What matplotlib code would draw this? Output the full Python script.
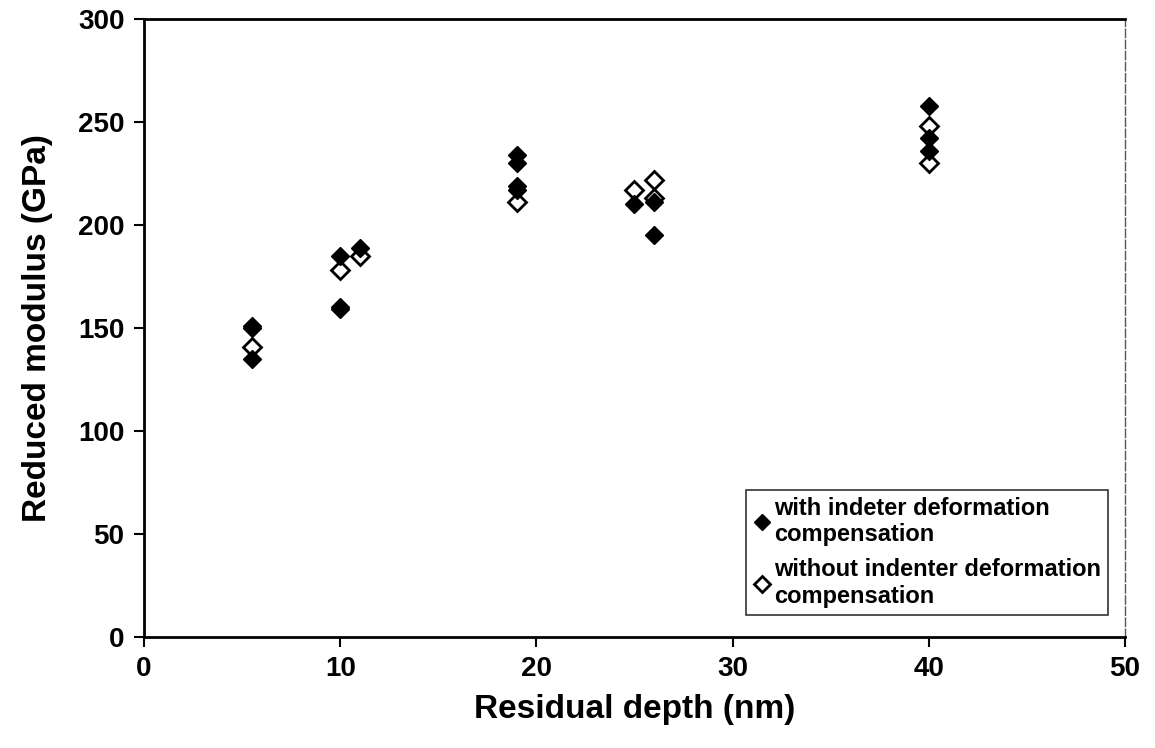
import numpy as np
import matplotlib.pyplot as plt

plt.rcParams['font.family'] = ['Liberation Sans', 'DejaVu Sans']

# with indenter deformation compensation (filled)
x_with = [5.5, 5.5, 5.5, 10, 10, 10, 11, 19, 19, 19, 19, 25, 26, 26, 40, 40, 40]
y_with = [151, 150, 135, 185, 160, 159, 189, 234, 230, 219, 217, 210, 211, 195, 258, 242, 236]

# without indenter deformation compensation (open)
x_without = [5.5, 10, 11, 19, 25, 26, 26, 40, 40]
y_without = [141, 178, 185, 211, 217, 222, 213, 248, 230]

fig = plt.figure(figsize=(11.55, 7.48), dpi=100)
ax = fig.add_axes([0.1247, 0.1484, 0.974 - 0.1247, 0.9746 - 0.1484])

ax.plot(x_with, y_with, linestyle='none', marker='D', ms=9.5, color='black',
        label='with indeter deformation\ncompensation', zorder=3)
ax.plot(x_without, y_without, linestyle='none', marker='D', ms=9.5,
        markerfacecolor='white', markeredgecolor='black', markeredgewidth=2,
        label='without indenter deformation\ncompensation', zorder=2)

ax.set_xlim(0, 50)
ax.set_ylim(0, 300)
ax.set_xticks(np.arange(0, 51, 10))
ax.set_yticks(np.arange(0, 301, 50))
ax.tick_params(direction='out', length=7, width=1.5, labelsize=20, pad=7)
for lab in ax.get_xticklabels() + ax.get_yticklabels():
    lab.set_fontweight('bold')

for s in ['left', 'bottom', 'top']:
    ax.spines[s].set_linewidth(2)
ax.spines['right'].set_linewidth(1)
ax.spines['right'].set_linestyle((0, (6, 2)))
ax.spines['right'].set_color('#555555')

ax.set_xlabel('Residual depth (nm)', fontsize=24, fontweight='bold', labelpad=8)
ax.set_ylabel('Reduced modulus (GPa)', fontsize=24, fontweight='bold', labelpad=18)

leg = ax.legend(loc='lower right', bbox_to_anchor=(0.983, 0.036),
                prop={'weight': 'bold', 'size': 17}, frameon=True, fancybox=False,
                handletextpad=0.1, handlelength=0.8, markerscale=0.85,
                borderpad=0.3, labelspacing=0.5, borderaxespad=0)
leg.get_frame().set_edgecolor('black')
leg.get_frame().set_linewidth(1.2)

fig.savefig('out.png', dpi=100)
